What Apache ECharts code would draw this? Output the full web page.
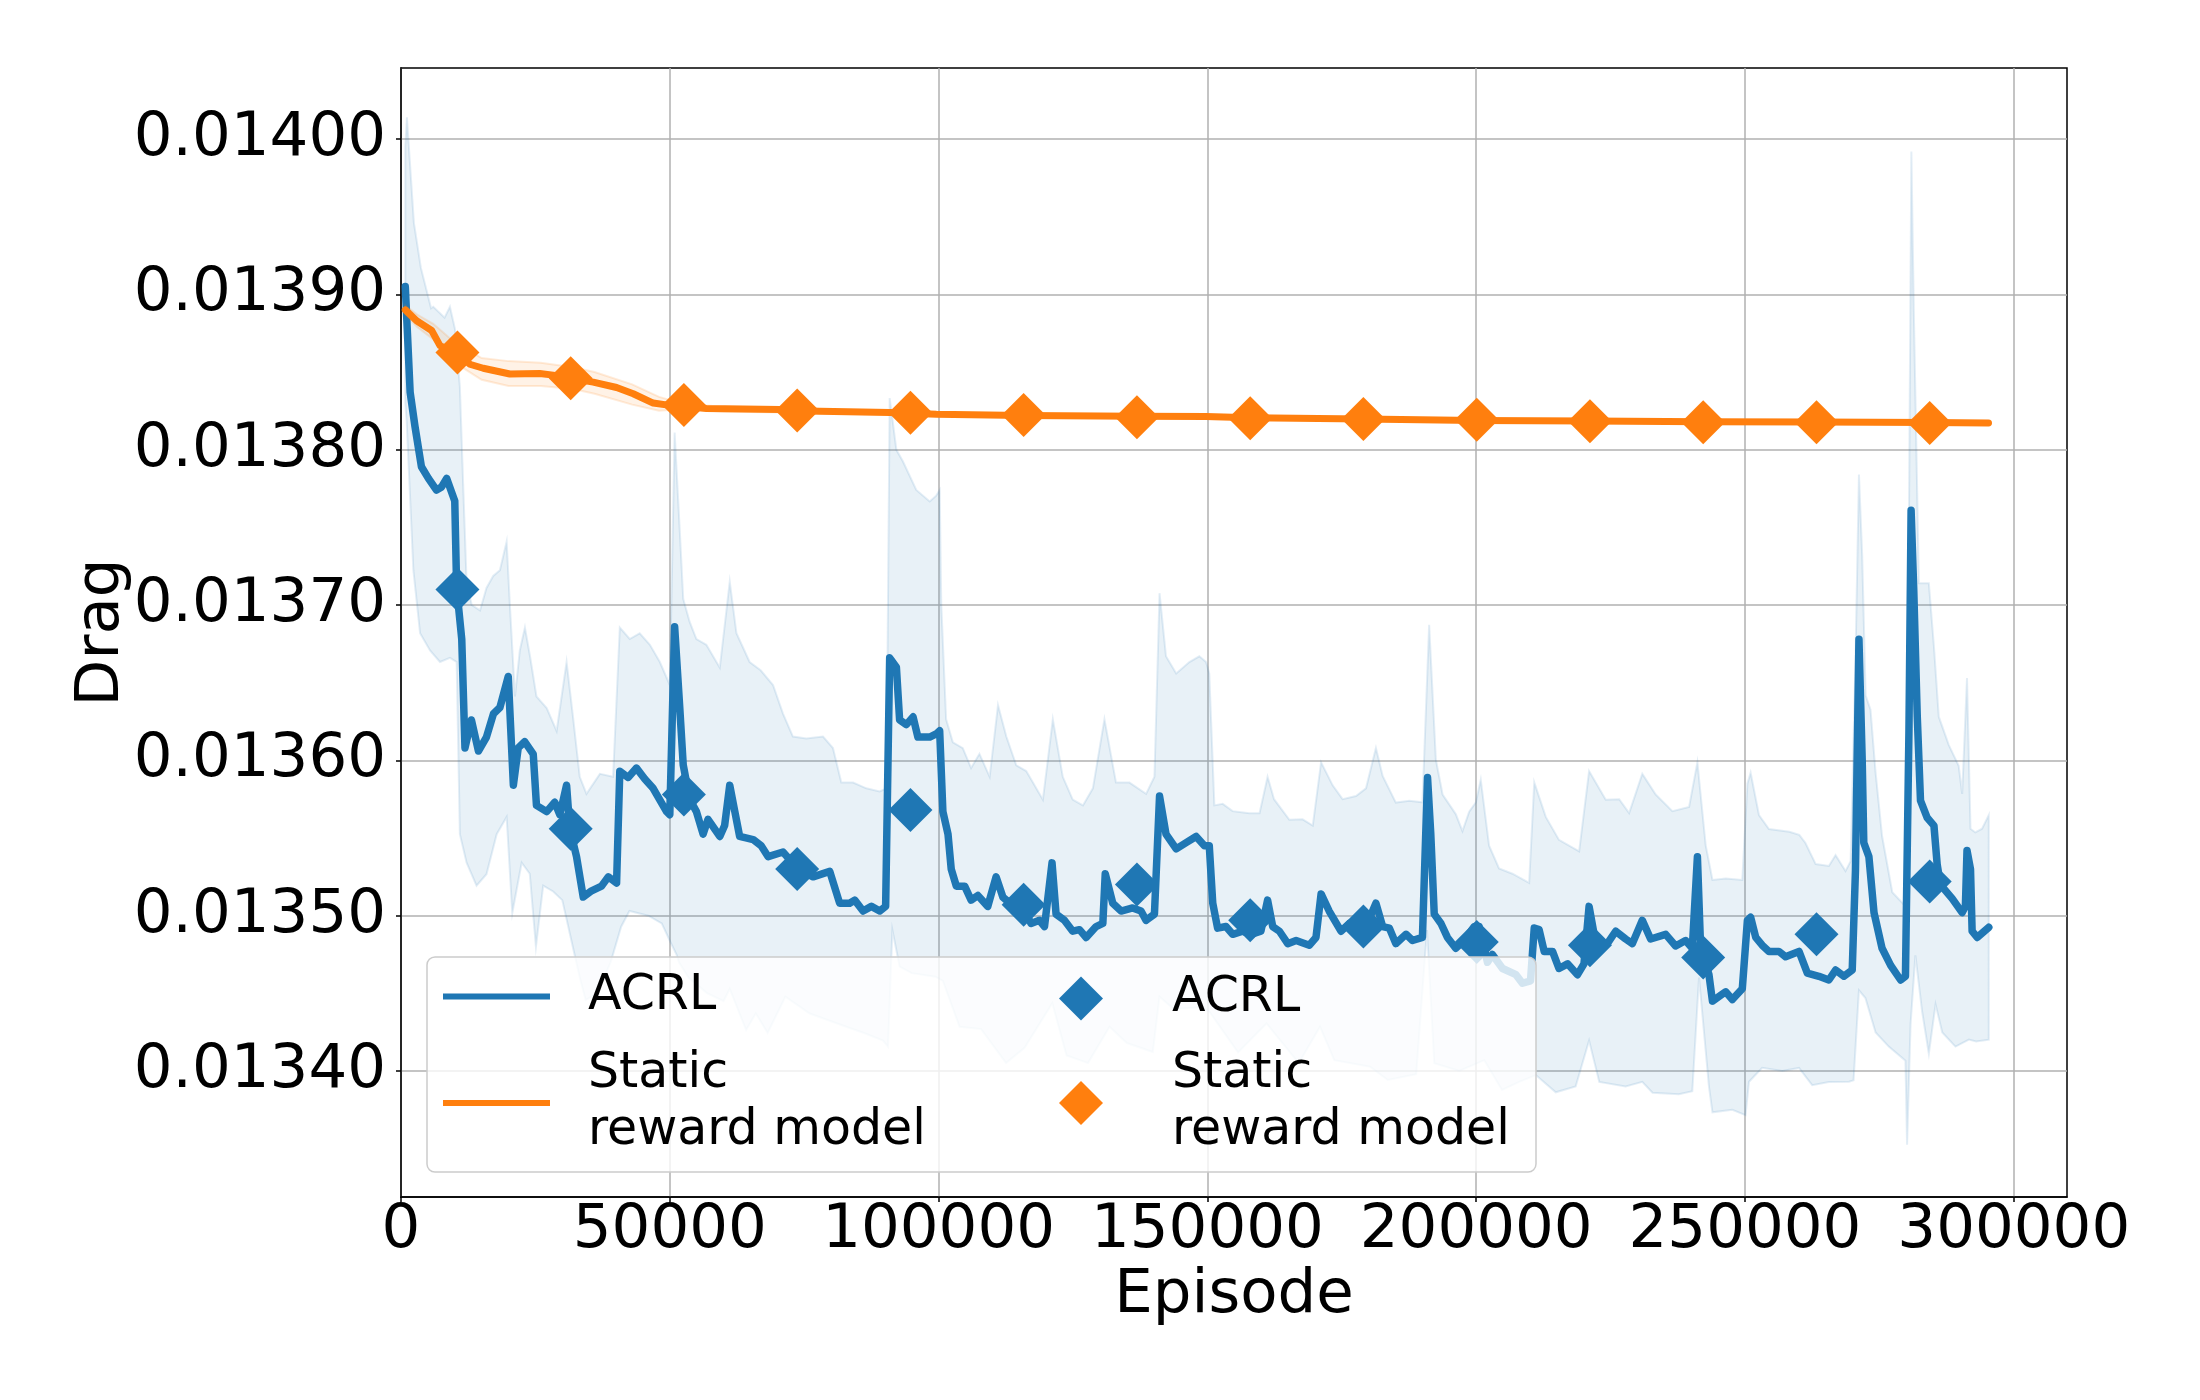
<!DOCTYPE html>
<html>
<head>
<meta charset="utf-8">
<title>Drag vs Episode</title>
<script src="https://cdn.jsdelivr.net/npm/echarts@6/dist/echarts.min.js"></script>
<style>
  html, body { margin: 0; padding: 0; background: #fff; }
  #chart { width: 2200px; height: 1400px; }
</style>
</head>
<body>
<div id="chart"></div>
<script>
// tick labels
var xTickValues = [0, 50000, 100000, 150000, 200000, 250000, 300000];
var yTickValues = [0.0134, 0.0135, 0.0136, 0.0137, 0.0138, 0.0139, 0.0140];

// ACRL mean curve
var acrlEpisodes = [
  800, 1700, 2600, 3800, 5100, 6600, 7550, 8500, 10000, 10350,
  11300, 11900, 13100, 14400, 15900, 17200, 18400, 19950, 20900, 21800,
  23000, 24600, 25200, 27100, 28600, 29550, 30800, 31400, 32650, 33900,
  35450, 37300, 38550, 40100, 40700, 42250, 43800, 45350, 46900, 49400,
  50000, 50900, 51850, 52500, 53700, 54950, 56200, 57100, 59300, 60200,
  61150, 62100, 63000, 65500, 67000, 68300, 71050, 73850, 76650, 79750,
  81600, 83450, 84400, 85950, 87500, 89050, 90150, 90900, 92150, 92750,
  94000, 95250, 96150, 98350, 99550, 100200, 100800, 101750, 102350, 103300,
  104850, 106050, 107300, 109150, 110700, 111950, 114450, 116000, 117200, 118750,
  119700, 121100, 121850, 123400, 124950, 126200, 127450, 129300, 130550, 131000,
  132400, 133950, 136100, 137650, 138600, 140150, 141100, 142300, 144200, 146050,
  147900, 149450, 150350, 151000, 151900, 153450, 154700, 156550, 158100, 159950,
  161200, 162150, 163400, 164950, 166500, 168950, 170200, 171150, 172650, 174850,
  176400, 178250, 179500, 181350, 182600, 183850, 185050, 186950, 188150, 190000,
  190950, 191550, 192200, 193450, 194650, 196200, 197750, 199650, 200550, 202100,
  203000, 204900, 207400, 208600, 210100, 210800, 211700, 212650, 214200, 215400,
  217000, 218850, 220050, 221000, 222250, 224400, 225950, 227800, 229050, 230900,
  232450, 235250, 237100, 238950, 240200, 241150, 241750, 243300, 243950, 246400,
  247650, 249500, 250450, 251050, 252000, 253200, 254450, 256300, 257550, 260050,
  261600, 263750, 265600, 266850, 268400, 269950, 270550, 271200, 271800, 272100,
  273050, 274000, 275500, 277100, 278950, 279850, 280500, 280900, 281400, 282050,
  282650, 283900, 285150, 285750, 286350, 288550, 290400, 291000, 291300, 291950,
  292250, 293200, 295350
];
var acrlDrag = [
  0.013905, 0.013837, 0.013815, 0.013789, 0.0137815, 0.013774, 0.013776, 0.0137815, 0.013767, 0.013711,
  0.013678, 0.013608, 0.013626, 0.013606, 0.013615, 0.013630, 0.013634, 0.013654, 0.013584, 0.013608,
  0.013612, 0.013604, 0.013571, 0.013567, 0.013573, 0.013565, 0.013584, 0.013556, 0.013538, 0.013512,
  0.013516, 0.013519, 0.013525, 0.013521, 0.013593, 0.013589, 0.013595, 0.013588, 0.013582, 0.013567,
  0.013565, 0.013686, 0.013634, 0.013597, 0.013575, 0.013567, 0.0135525, 0.013562, 0.013551, 0.013558,
  0.013584, 0.013567, 0.013551, 0.013549, 0.013545, 0.013538, 0.013541, 0.013530, 0.013525, 0.0135285,
  0.013508, 0.013508, 0.013510, 0.013503, 0.013506, 0.013503, 0.013506, 0.013666, 0.013660, 0.013626,
  0.013623, 0.013628, 0.013615, 0.013615, 0.013617, 0.013619, 0.013567, 0.0135525, 0.013530, 0.013519,
  0.013519, 0.013510, 0.013513, 0.013506, 0.013525, 0.013512, 0.0135045, 0.013503, 0.013495, 0.013497,
  0.013493, 0.013534, 0.013501, 0.013497, 0.013490, 0.013491, 0.013486, 0.013493, 0.013495, 0.013527,
  0.013508, 0.013503, 0.013505, 0.013503, 0.013497, 0.013501, 0.013577, 0.0135525, 0.013543, 0.013547,
  0.013551, 0.013545, 0.013545, 0.013508, 0.013492, 0.013493, 0.013488, 0.013490, 0.013488, 0.013490,
  0.013510, 0.013493, 0.013490, 0.013482, 0.013484, 0.013481, 0.013486, 0.013514, 0.013503, 0.013490,
  0.013495, 0.013497, 0.013493, 0.013508, 0.013493, 0.013492, 0.013482, 0.013488, 0.013484, 0.013486,
  0.013589, 0.013553, 0.013501, 0.013495, 0.013486, 0.013479, 0.013484, 0.013493, 0.013493, 0.013470,
  0.013475, 0.013466, 0.013462, 0.0134565, 0.013458, 0.013492, 0.013491, 0.013477, 0.013477, 0.013466,
  0.013469, 0.013462, 0.013469, 0.013506, 0.013482, 0.013482, 0.013490, 0.013485, 0.013482, 0.013497,
  0.013485, 0.013488, 0.0134805, 0.013484, 0.013479, 0.013538, 0.013479, 0.013462, 0.013445, 0.013451,
  0.013446, 0.013453, 0.013497, 0.013499, 0.013486, 0.013481, 0.013477, 0.013477, 0.0134736, 0.013477,
  0.013463, 0.013461, 0.0134586, 0.013465, 0.013461, 0.013465, 0.013529, 0.013678, 0.013601, 0.013547,
  0.013538, 0.013502, 0.013479, 0.013468, 0.0134586, 0.013461, 0.013619, 0.013761, 0.013709, 0.013628,
  0.013574, 0.013563, 0.013558, 0.013533, 0.013520, 0.013511, 0.013502, 0.013506, 0.013542, 0.013530,
  0.013490, 0.013486, 0.0134925
];

// ACRL shaded band: upper edge
var acrlUpperEpisodes = [
  800, 1100, 2400, 3700, 5600, 6000, 8100, 9100, 10050, 10950,
  11600, 12200, 13150, 14700, 15900, 17150, 18400, 19650, 20250, 21200,
  22100, 23050, 24000, 25200, 27100, 28950, 30800, 32050, 33250, 34500,
  37000, 39450, 40700, 42550, 44400, 46300, 48150, 50000, 50900, 51850,
  52500, 53700, 54950, 56800, 59300, 61150, 62400, 64850, 66900, 69200,
  71050, 72900, 75400, 78500, 80350, 81900, 84100, 86550, 89050, 90300,
  90900, 92150, 93350, 95850, 98350, 99550, 100200, 100500, 101400, 102650,
  104500, 106050, 107600, 109500, 111050, 112600, 114450, 116300, 117550, 119400,
  121250, 123100, 124950, 126850, 128700, 130850, 133000, 135500, 138600, 140150,
  141100, 142300, 144200, 146650, 148500, 149750, 150350, 151300, 152850, 154700,
  157800, 159700, 161200, 162400, 165250, 167700, 169600, 171150, 173300, 175150,
  177650, 179500, 181350, 182600, 185050, 187550, 190000, 191250, 192500, 193750,
  196200, 197450, 198700, 199950, 200850, 202400, 204250, 206750, 209850, 210800,
  212950, 215400, 219150, 221000, 224100, 226600, 228450, 230900, 233400, 236500,
  239600, 241150, 242700, 243950, 246400, 249500, 250450, 251050, 252600, 254450,
  258250, 260100, 261250, 263150, 265600, 266850, 268700, 269650, 270550, 271200,
  271800, 272450, 273350, 274300, 275500, 277400, 279850, 280500, 280950, 281400,
  282350, 283250, 284200, 285150, 286050, 287900, 289750, 290400, 291300, 291950,
  292850, 294100, 295350
];
var acrlUpper = [
  0.013995, 0.014014, 0.013946, 0.013917, 0.013891, 0.013892, 0.013885, 0.013892, 0.0138775, 0.0138405,
  0.013774, 0.013715, 0.013700, 0.0136965, 0.013711, 0.0137187, 0.0137224, 0.0137408, 0.0137002, 0.0136411,
  0.0136707, 0.0136855, 0.013667, 0.0136411, 0.0136337, 0.0136189, 0.0136633, 0.0136264, 0.0135894, 0.0135784,
  0.0135913, 0.0135894, 0.0136855, 0.0136781, 0.0136818, 0.0136744, 0.0136633, 0.0136485, 0.013811, 0.0137482,
  0.0137039, 0.0136891, 0.0136781, 0.0136744, 0.0136596, 0.013715, 0.0136818, 0.0136633, 0.013658, 0.0136485,
  0.0136301, 0.0136153, 0.013614, 0.0136153, 0.0136079, 0.0135857, 0.0135857, 0.013582, 0.013580, 0.013582,
  0.0138332, 0.0137999, 0.0137925, 0.0137741, 0.0137667, 0.0137704, 0.0137741, 0.0137002, 0.0136264, 0.0136116,
  0.0136079, 0.013595, 0.0136042, 0.0135894, 0.0136356, 0.0136153, 0.0135968, 0.0135931, 0.0135857, 0.0135747,
  0.0136264, 0.0135894, 0.0135747, 0.013571, 0.013582, 0.0136264, 0.0135857, 0.0135857, 0.0135784, 0.0135894,
  0.0137076, 0.013667, 0.0136559, 0.0136633, 0.013667, 0.0136633, 0.0136559, 0.013571, 0.013572, 0.0135673,
  0.013566, 0.013566, 0.0135894, 0.013575, 0.0135617, 0.013562, 0.013558, 0.0135987, 0.0135839, 0.013575,
  0.013577, 0.013582, 0.0136079, 0.013590, 0.0135728, 0.013574, 0.013573, 0.0136873, 0.0136005, 0.013578,
  0.0135654, 0.0135544, 0.013567, 0.013573, 0.0135876, 0.0135451, 0.0135304, 0.013527, 0.0135211, 0.0135858,
  0.0135636, 0.0135488, 0.0135414, 0.0135931, 0.0135747, 0.013575, 0.013566, 0.0135913, 0.013578, 0.0135673,
  0.013570, 0.0135987, 0.0135451, 0.013523, 0.013524, 0.013523, 0.013585, 0.013592, 0.0135648, 0.0135558,
  0.013554, 0.013552, 0.0135468, 0.0135332, 0.013532, 0.013539, 0.0135287, 0.013535, 0.0136643, 0.013784,
  0.013732, 0.0136417, 0.0136326, 0.013592, 0.0135513, 0.0135151, 0.0135061, 0.0137546, 0.0139919, 0.0138902,
  0.013714, 0.013714, 0.013714, 0.0136733, 0.0136281, 0.013610, 0.0135965, 0.0135784, 0.013653, 0.013556,
  0.0135536, 0.013556, 0.0135648
];

// ACRL shaded band: lower edge
var acrlLowerEpisodes = [
  800, 1050, 2300, 3550, 5400, 7250, 9100, 10350, 10950, 12200,
  14050, 15900, 17800, 19650, 20700, 22450, 23950, 25100, 26450, 28300,
  30000, 32050, 33250, 34350, 36500, 39000, 40950, 42500, 46000, 48500,
  50200, 51250, 51700, 53500, 56900, 60000, 61150, 64200, 66000, 68200,
  71500, 76000, 82800, 86100, 89650, 90600, 91400, 92750, 95000, 99400,
  100800, 103900, 107900, 112550, 116000, 121150, 123800, 127800, 131800, 135000,
  139850, 141100, 143700, 149050, 150400, 155700, 161000, 167000, 170950, 173600,
  180250, 183550, 188850, 190850, 192200, 196850, 201500, 204800, 208000, 211100,
  214800, 218500, 221000, 222900, 227800, 230900, 232800, 237700, 240200, 241450,
  243300, 243950, 247650, 250100, 250750, 253200, 256950, 260050, 262500, 265600,
  269350, 270200, 271200, 272400, 274300, 276750, 279850, 280150, 280800, 281700,
  282950, 284200, 285450, 286700, 289150, 291650, 293000, 295350
];
var acrlLower = [
  0.013830, 0.0138184, 0.0137224, 0.0136818, 0.0136707, 0.0136633, 0.013666, 0.0136633, 0.0135525, 0.0135341,
  0.0135193, 0.0135267, 0.0135525, 0.0135636, 0.0135017, 0.0135341, 0.013527, 0.013480, 0.0135193, 0.0135156,
  0.013510, 0.0134786, 0.0134602, 0.0134457, 0.013450, 0.013470, 0.0134929, 0.013503, 0.013500, 0.013495,
  0.0134824, 0.013475, 0.013470, 0.013460, 0.0134502, 0.013445, 0.0134528, 0.0134264, 0.013437, 0.0134245,
  0.0134478, 0.013437, 0.0134285, 0.0134245, 0.0134196, 0.0134156, 0.0134908, 0.0134672, 0.013463, 0.0134607,
  0.013458, 0.0134285, 0.013427, 0.0134051, 0.013415, 0.0134437, 0.013410, 0.0134051, 0.0134285, 0.013418,
  0.0134122, 0.0134478, 0.013440, 0.013441, 0.013438, 0.013412, 0.0134306, 0.013405, 0.0134285, 0.013407,
  0.0134028, 0.0133942, 0.013398, 0.0134908, 0.013405, 0.013400, 0.013407, 0.0133878, 0.013393, 0.0133974,
  0.0133863, 0.013390, 0.0134196, 0.013393, 0.013390, 0.013393, 0.013386, 0.013385, 0.013387, 0.0134602,
  0.013390, 0.0133734, 0.013375, 0.0133716, 0.0133931, 0.0134021, 0.013400, 0.013402, 0.0133909, 0.013393,
  0.0133931, 0.013394, 0.0134519, 0.013447, 0.0134248, 0.0134157, 0.0134067, 0.0133525, 0.013430, 0.0134745,
  0.0134383, 0.0134112, 0.0134429, 0.0134248, 0.0134157, 0.0134202, 0.013419, 0.0134202
];

// Static reward model mean curve
var staticEpisodes = [
  800, 2900, 5700, 7250, 10500, 12800, 15300, 20250, 25800, 28300,
  31550, 35750, 40100, 43200, 46900, 50000, 52600, 56800, 70400, 73700,
  77900, 90900, 94750, 99600, 115800, 136900, 149750, 158000, 179000, 200000,
  221300, 242400, 263400, 284500, 295300
];
var staticDrag = [
  0.013890, 0.013883, 0.0138767, 0.013867, 0.013862, 0.013855, 0.0138524, 0.0138487, 0.013849, 0.013848,
  0.013846, 0.0138435, 0.013840, 0.013836, 0.013830, 0.0138285, 0.013828, 0.0138265, 0.0138258, 0.013825,
  0.0138247, 0.013824, 0.0138235, 0.0138228, 0.013822, 0.0138215, 0.0138213, 0.0138205, 0.0138197, 0.0138188,
  0.0138185, 0.0138179, 0.0138178, 0.0138175, 0.0138172
];

// Static reward model shaded band
var staticBandEpisodes = [800, 3000, 6000, 10000, 15000, 20000, 26000, 32000, 36000, 43000, 48000, 52000, 60000, 100000, 200000, 295300];
var staticBandHigh = [0.013893, 0.013887, 0.013881, 0.013869, 0.013859, 0.013857, 0.013856, 0.013853, 0.013850, 0.013842, 0.013834, 0.013830, 0.0138275, 0.013824, 0.0138195, 0.0138182];
var staticBandLow = [0.013887, 0.013879, 0.013871, 0.013856, 0.013845, 0.013841, 0.013841, 0.013839, 0.013836, 0.013829, 0.013825, 0.013826, 0.0138245, 0.013822, 0.0138175, 0.0138165];

// diamond markers
var markerEpisodes = [10500, 31560, 52620, 73700, 94760, 115820, 136900, 157960, 179020, 200100, 221160, 242220, 263300, 284360];
var acrlMarkerDrag = [0.013710, 0.013556, 0.013578, 0.013530, 0.013568, 0.013507, 0.013520, 0.013497, 0.013493, 0.013483, 0.013481, 0.013473, 0.013488, 0.013522];
var staticMarkerDrag = [0.0138626, 0.013846, 0.0138287, 0.0138252, 0.0138238, 0.0138223, 0.0138209, 0.0138203, 0.0138197, 0.0138192, 0.0138183, 0.0138177, 0.0138177, 0.0138172];

var FONT = 'DejaVu Sans';
var BLUE = '#1f77b4';
var ORANGE = '#ff7f0e';

function zip(xs, ys) {
  var out = [];
  for (var i = 0; i < xs.length; i++) out.push([xs[i], ys[i]]);
  return out;
}

function bandSeries(name, upEp, up, lowEp, low, fill, stroke, z) {
  return {
    type: 'custom',
    name: name,
    z: z,
    silent: true,
    data: [[upEp[0], up[0]]],
    encode: { x: 0, y: 1 },
    renderItem: function (params, api) {
      var pts = [];
      for (var i = 0; i < upEp.length; i++) pts.push(api.coord([upEp[i], up[i]]));
      for (var j = lowEp.length - 1; j >= 0; j--) pts.push(api.coord([lowEp[j], low[j]]));
      return {
        type: 'polygon',
        shape: { points: pts },
        style: { fill: fill, stroke: stroke, lineWidth: 2 }
      };
    }
  };
}

var legendNames = {
  'ACRL': 'ACRL',
  'Static reward model': 'Static\nreward model',
  'ACRL markers': 'ACRL',
  'Static markers': 'Static\nreward model'
};

var chart = echarts.init(document.getElementById('chart'), null, { renderer: 'canvas' });

var option = {
  animation: false,
  backgroundColor: '#ffffff',
  grid: {
    left: 401, top: 68, width: 1666, height: 1129,
    show: true, borderColor: '#000', borderWidth: 1.5,
    containLabel: false, outerBoundsMode: 'none'
  },
  xAxis: {
    type: 'value',
    min: 0, max: 309900, interval: 50000,
    name: 'Episode', nameLocation: 'middle', nameGap: 69, nameMoveOverlap: false,
    nameTextStyle: { fontFamily: FONT, fontSize: 61, color: '#000', lineHeight: 61 },
    axisLine: { show: true, onZero: false, lineStyle: { color: '#000', width: 1.5 } },
    axisTick: { show: true, length: 5, lineStyle: { color: '#000', width: 1.5 }, customValues: xTickValues },
    axisLabel: {
      fontFamily: FONT, fontSize: 61, color: '#000', lineHeight: 61, margin: 4,
      customValues: xTickValues,
      formatter: function (v) { return String(v); }
    },
    splitLine: { show: true, lineStyle: { color: '#b0b0b0', width: 1.5 } }
  },
  yAxis: {
    type: 'value',
    min: 0.0133189, max: 0.0140457,
    splitNumber: 7, minInterval: 0.0001, maxInterval: 0.0001,
    name: 'Drag', nameLocation: 'middle', nameGap: 268, nameRotate: 90, nameMoveOverlap: false,
    nameTextStyle: { fontFamily: FONT, fontSize: 61, color: '#000', lineHeight: 61 },
    axisLine: { show: true, onZero: false, lineStyle: { color: '#000', width: 1.5 } },
    axisTick: { show: true, length: 5, lineStyle: { color: '#000', width: 1.5 }, customValues: yTickValues },
    axisLabel: {
      fontFamily: FONT, fontSize: 61, color: '#000', lineHeight: 61, margin: 15,
      customValues: yTickValues,
      formatter: function (v) { return v.toFixed(5); }
    },
    splitLine: { show: true, lineStyle: { color: '#b0b0b0', width: 1.5 } }
  },
  legend: [
    {
      orient: 'vertical', left: 443, top: 968, padding: 0, itemGap: 21,
      itemWidth: 107, itemHeight: 6, icon: 'rect', selectedMode: false, z: 8,
      data: ['ACRL', 'Static reward model'],
      formatter: function (name) { return legendNames[name]; },
      textStyle: { fontFamily: FONT, fontSize: 49, color: '#000', lineHeight: 57, padding: [0, 0, 0, 33] }
    },
    {
      orient: 'vertical', left: 1059, top: 970, padding: 0, itemGap: 19,
      itemWidth: 44, itemHeight: 44, icon: 'diamond', selectedMode: false, z: 8,
      data: ['ACRL markers', 'Static markers'],
      formatter: function (name) { return legendNames[name]; },
      textStyle: { fontFamily: FONT, fontSize: 49, color: '#000', lineHeight: 57, padding: [0, 0, 0, 64] }
    }
  ],
  graphic: [
    {
      type: 'rect', z: 7, silent: true,
      shape: { x: 427, y: 957, width: 1109, height: 215, r: 8 },
      style: { fill: 'rgba(255,255,255,0.8)', stroke: '#cccccc', lineWidth: 1.5 }
    }
  ],
  series: [
    bandSeries('ACRL band', acrlUpperEpisodes, acrlUpper, acrlLowerEpisodes, acrlLower,
      'rgba(31,119,180,0.1)', 'rgba(31,119,180,0.12)', 1),
    {
      type: 'line', name: 'ACRL', z: 2, color: BLUE,
      data: zip(acrlEpisodes, acrlDrag),
      showSymbol: false, symbol: 'none',
      lineStyle: { color: BLUE, width: 7.5, cap: 'round', join: 'round' },
      itemStyle: { color: BLUE }
    },
    {
      type: 'scatter', name: 'ACRL markers', z: 3, color: BLUE,
      data: zip(markerEpisodes, acrlMarkerDrag),
      symbol: 'diamond', symbolSize: [44, 44],
      itemStyle: { color: BLUE, opacity: 1 }
    },
    bandSeries('Static band', staticBandEpisodes, staticBandHigh, staticBandEpisodes, staticBandLow,
      'rgba(255,127,14,0.1)', 'rgba(255,127,14,0.15)', 4),
    {
      type: 'line', name: 'Static reward model', z: 5, color: ORANGE,
      data: zip(staticEpisodes, staticDrag),
      showSymbol: false, symbol: 'none',
      lineStyle: { color: ORANGE, width: 7, cap: 'round', join: 'round' },
      itemStyle: { color: ORANGE }
    },
    {
      type: 'scatter', name: 'Static markers', z: 6, color: ORANGE,
      data: zip(markerEpisodes, staticMarkerDrag),
      symbol: 'diamond', symbolSize: [44, 44],
      itemStyle: { color: ORANGE, opacity: 1 }
    }
  ]
};

chart.setOption(option);
</script>
</body>
</html>
